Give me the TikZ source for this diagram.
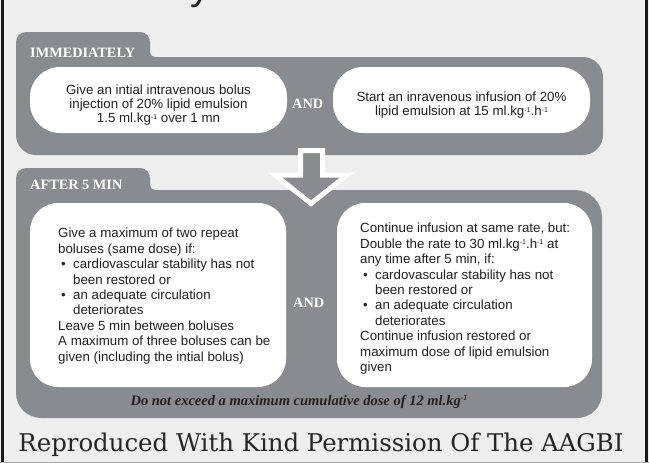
\documentclass[tikz,border=0pt]{standalone}
\usepackage{fontspec}
\setmainfont{Liberation Serif}
\newfontfamily\arialf{Liberation Sans}
\newfontfamily\reprof{DejaVu Serif}
\definecolor{bgc}{HTML}{EEEEEE}
\definecolor{panelc}{HTML}{8A8B8E}
\definecolor{txtc}{HTML}{231F20}
\definecolor{reprc}{HTML}{262626}
\definecolor{edgec}{HTML}{1A1A1A}
\begin{document}
\begin{tikzpicture}[x=1pt,y=-1pt,
  panel/.style={fill=panelc},
  wbox/.style={fill=white, draw=none, inner sep=0},
  lbl/.style={text=white, font=\bfseries\fontsize{14.3}{14.3}\selectfont, inner sep=0, anchor=base west},
  andlbl/.style={text=white, font=\bfseries\fontsize{14.3}{14.3}\selectfont, inner sep=0, anchor=base west},
  bodyA/.style={text=txtc, font=\arialf\fontsize{13.3}{14}\selectfont, align=center, inner sep=0, anchor=north},
  bodyB/.style={text=txtc, font=\arialf\fontsize{13.3}{15.4}\selectfont, align=left, inner sep=0, anchor=north west},
]
\newcommand{\bul}{\makebox[15pt][l]{\hspace{3pt}\textbullet}}
\newcommand{\ind}{\hspace*{15pt}}
\newcommand{\spr}[1]{\raisebox{3.6pt}{\fontsize{7}{7}\selectfont #1}}
\useasboundingbox (0,0) rectangle (649,463);
\fill[bgc] (0,0) rectangle (649,463);
% cut-off title fragment
\begin{scope}
\clip (0,0) rectangle (649,463);
\node[font=\arialf\fontsize{40}{40}\selectfont, text=txtc, inner sep=0, anchor=base west] (ttl) at (190,-0.5) {y};
\end{scope}
% panel 1
\fill[panel] (16,135) -- (16,42) arc(180:270:10) -- (140,32) arc(270:360:10) -- (150,52) arc(180:90:5)
  -- (583,57) arc(270:360:20) -- (603,135) arc(0:90:20) -- (36,155) arc(90:180:20) -- cycle;
% panel 2
\fill[panel] (16,393) -- (16,178) arc(180:270:10) -- (140,168) arc(270:360:10) -- (150,185) arc(180:90:5)
  -- (575,190) arc(270:360:27) -- (602,393) arc(0:90:25) -- (41,418) arc(90:180:25) -- cycle;
% arrow
\filldraw[fill=panelc, draw=white, line width=5pt, line join=miter] (300.5,150.5) -- (322.5,150.5) -- (322.5,175) -- (347,175) -- (311,203.5) -- (275,175) -- (300.5,175) -- cycle;
% labels
\node[lbl] (imm) at (30,57) {IMMEDIATELY};
\node[lbl] (aft) at (30,189) {AFTER 5 MIN};
% white boxes
\node[wbox, rounded corners=30, minimum width=257, minimum height=66] (b1) at (158.5,100) {};
\node[wbox, rounded corners=30, minimum width=257, minimum height=66] (b2) at (461.5,100) {};
\node[wbox, rounded corners=28, minimum width=256, minimum height=184] (b3) at (158,295) {};
\node[wbox, rounded corners=28, minimum width=255, minimum height=184] (b4) at (464.5,295) {};
\node[andlbl] (and1) at (292,108) {AND};
\node[andlbl] (and2) at (293,307) {AND};
% texts
\node[bodyA] (t1) at (158.5,85) {Give an intial intravenous bolus\\injection of 20\% lipid emulsion\\1.5 ml.kg\spr{-1} over 1 mn};
\node[bodyA] (t2) at (461.5,92) {Start an inravenous infusion of 20\%\\lipid emulsion at 15 ml.kg\spr{-1}.h\spr{-1}};
\node[bodyB] (t3) at (58,228) {Give a maximum of two repeat\\boluses (same dose) if:\\\bul cardiovascular stability has not\\\ind been restored or\\\bul an adequate circulation\\\ind deteriorates\\Leave 5 min between boluses\\A maximum of three boluses can be\\given (including the intial bolus)};
\node[bodyB] (t4) at (360,223) {Continue infusion at same rate, but:\\Double the rate to 30 ml.kg\spr{-1}.h\spr{-1} at\\any time after 5 min, if:\\\bul cardovascular stability has not\\\ind been restored or\\\bul an adequate circulation\\\ind deteriorates\\Continue infusion restored or\\maximum dose of lipid emulsion\\given};
\node[font=\bfseries\itshape\fontsize{14.5}{14.5}\selectfont, text=txtc, inner sep=0, anchor=base] (max) at (299,405) {Do not exceed a maximum cumulative dose of 12 ml.kg\raisebox{4.5pt}{\fontsize{8}{8}\selectfont -1}};
\node[font=\reprof\fontsize{24.4}{24.4}\selectfont, text=reprc, inner sep=0, anchor=base] (repro) at (321,451) {Reproduced With Kind Permission Of The AAGBI};
% frame edges
\fill[edgec] (1,0) rectangle (3.5,463);
\fill[edgec] (645,0) rectangle (648,463);
\fill[gray!70] (0,461.5) rectangle (649,463);
\end{tikzpicture}
\end{document}
